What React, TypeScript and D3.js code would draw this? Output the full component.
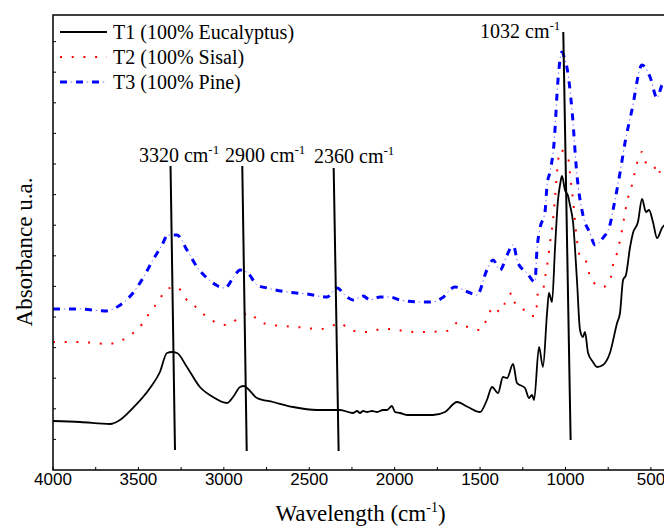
import React from "react";
import * as d3 from "d3";

// wavenumber (cm^-1) values, absorbance in arbitrary units
const t1Wave = [4000,3842,3666,3608,3532,3432,3374,3333,3303,3274,3216,3140,3063,2981,2946,2905,2882,2864,2806,2712,2595,2455,2320,2244,2220,2203,2185,2162,2133,2103,2068,2045,2016,1998,1969,1928,1852,1776,1705,1635,1571,1500,1460,1430,1395,1366,1342,1307,1284,1237,1214,1196,1184,1155,1132,1108,1097,1079,1061,1044,1032,1021,1003,985,974,956,933,915,898,886,868,839,816,781,740,698,681,663,646,622,605,576,552,529,511,488,464,435,400];
const t1Abs = [49,48,46,50,62,82,98,117,118,117,103,83,73,67,73,83,84,82,72,68,63,60,60,57,59,57,59,58,59,58,60,60,64,58,57,55,55,55,58,68,63,58,70,83,77,93,92,106,87,82,72,75,70,123,103,157,177,168,223,270,285,294,280,274,265,248,190,140,133,138,117,108,103,105,117,147,157,190,195,223,237,248,271,258,260,248,232,242,248];

const t2Wave = [4000,3842,3678,3608,3538,3473,3432,3385,3333,3274,3227,3157,3099,3040,2981,2905,2853,2788,2712,2572,2437,2379,2320,2262,2162,2074,2010,1951,1869,1694,1635,1571,1500,1460,1424,1383,1354,1313,1296,1243,1202,1173,1167,1161,1132,1120,1108,1091,1073,1061,1050,1032,1009,979,974,956,944,933,915,886,868,839,781,734,722,698,669,640,611,581,552,535,488,459,429,400];
const t2Abs = [128,128,126,129,136,147,158,168,181,183,172,162,153,147,145,153,157,148,145,143,141,143,147,140,138,141,141,139,138,139,147,143,140,151,163,158,167,177,167,160,154,155,167,178,180,192,204,227,250,273,297,320,318,308,297,270,248,230,214,212,200,188,183,193,205,217,240,268,285,307,318,308,306,295,307,307];

const t3Wave = [4000,3842,3696,3625,3532,3473,3415,3362,3327,3274,3216,3157,3099,2993,2946,2905,2859,2806,2747,2630,2513,2396,2338,2279,2244,2185,2144,2086,2027,1969,1852,1776,1723,1647,1571,1518,1460,1424,1383,1342,1307,1278,1225,1179,1167,1149,1120,1108,1091,1067,1044,1021,1003,991,962,933,898,857,827,781,740,716,681,652,611,552,505,464,435,400];
const t3Abs = [161,161,159,163,177,192,210,225,235,235,220,203,192,182,192,200,197,185,182,178,176,173,182,173,170,174,170,173,173,170,168,168,172,183,178,175,200,210,200,215,225,207,197,188,220,242,258,285,298,327,390,418,410,402,360,295,255,237,225,232,245,265,297,327,360,405,393,372,385,390];

const xTicks = [4000, 3500, 3000, 2500, 2000, 1500, 1000, 500];
const minorTicks = d3.range(4000, 400, -250);

const seriesNames = ["T1 (100% Eucalyptus)", "T2 (100% Sisal)", "T3 (100% Pine)"];

// annotation lines: label, top (wave, abs), bottom (wave, abs), label anchor wave & abs
const annLabels = ["3320", "2900", "2360", "1032"];
const annTopWave = [3312, 2892, 2357, 1013];
const annTopAbs = [304, 304, 302, 438];
const annBotWave = [3286, 2866, 2328, 970];
const annBotAbs = [20, 19, 19, 30];
const annTextWave = [3497, 2993, 2472, 1500];
const annTextAbs = [308, 308, 307, 432];

const W = 664, H = 529;
const left = 53, right = 668, top = 15, bottom = 470;

export default function App() {
  const x = d3.scaleLinear().domain([4000, 400]).range([left, right]);
  const y = d3.scaleLinear().domain([0, 455]).range([bottom, top]);
  const line = d3.line<[number, number]>().x(d => x(d[0])).y(d => y(d[1])).curve(d3.curveMonotoneX);
  const p1 = line(t1Wave.map((w, i) => [w, t1Abs[i]]))!;
  const p2 = line(t2Wave.map((w, i) => [w, t2Abs[i]]))!;
  const p3 = line(t3Wave.map((w, i) => [w, t3Abs[i]]))!;
  const yTicks = d3.range(1, 15).map(k => k * 30.6);
  const serif = "'Liberation Serif', 'Times New Roman', serif";
  const sans = "'Liberation Sans', Arial, sans-serif";
  const legendY = [32, 57, 82];

  return (
    <svg width={W} height={H} style={{ position: "absolute", left: 0, top: 0, background: "#fff" }}>
      <defs>
        <clipPath id="plot">
          <rect x={left} y={top} width={right - left} height={bottom - top} />
        </clipPath>
      </defs>
      <g clipPath="url(#plot)" fill="none">
        <path d={p1} stroke="#000" strokeWidth={1.8} />
        <path d={p2} stroke="#ff0000" strokeWidth={2} strokeDasharray="2 9.7" />
        <path d={p3} stroke="#0000ff" strokeWidth={3} strokeDasharray="7 9" />
        <path d={p3} stroke="#7070ff" strokeWidth={1} strokeDasharray="1.5 14.5" strokeDashoffset={-10.75} />
      </g>
      {/* annotation lines */}
      {annLabels.map((lab, i) => (
        <g key={lab}>
          <line x1={x(annTopWave[i])} y1={y(annTopAbs[i])} x2={x(annBotWave[i])} y2={y(annBotAbs[i])} stroke="#000" strokeWidth={2} />
          <text x={x(annTextWave[i])} y={y(annTextAbs[i])} fontFamily={serif} fontSize={20} fill="#000">
            {lab} cm<tspan fontSize={13} dy={-8}>-1</tspan>
          </text>
        </g>
      ))}
      {/* frame */}
      <rect x={left} y={top} width={right - left} height={bottom - top} fill="none" stroke="#000" strokeWidth={1.5} />
      {minorTicks.map(t => (
        <line key={"m" + t} x1={x(t)} x2={x(t)} y1={bottom} y2={bottom - 3} stroke="#000" strokeWidth={1} />
      ))}
      {yTicks.map(t => (
        <line key={"y" + t} x1={left} x2={left + 3} y1={y(t)} y2={y(t)} stroke="#000" strokeWidth={1} />
      ))}
      {xTicks.map(t => (
        <text key={t} x={x(t)} y={bottom + 15} textAnchor="middle" fontFamily={sans} fontSize={17} fill="#000">{t}</text>
      ))}
      <text x={(left + right) / 2} y={521} textAnchor="middle" fontFamily={serif} fontSize={23} fill="#000">
        Wavelength (cm<tspan fontSize={14} dy={-9}>-1</tspan><tspan dy={9}>)</tspan>
      </text>
      <text transform={`translate(32, 252) rotate(-90)`} textAnchor="middle" fontFamily={serif} fontSize={23} fill="#000">Absorbance u.a.</text>
      {/* legend */}
      <line x1={60} x2={107} y1={legendY[0]} y2={legendY[0]} stroke="#000" strokeWidth={1.8} />
      <line x1={60} x2={107} y1={legendY[1]} y2={legendY[1]} stroke="#ff0000" strokeWidth={2} strokeDasharray="2 9.7" />
      <line x1={60} x2={107} y1={legendY[2]} y2={legendY[2]} stroke="#0000ff" strokeWidth={3} strokeDasharray="7 9" />
      <line x1={60} x2={107} y1={legendY[2]} y2={legendY[2]} stroke="#7070ff" strokeWidth={1} strokeDasharray="1.5 14.5" strokeDashoffset={-10.75} />
      {seriesNames.map((n, i) => (
        <text key={n} x={113} y={legendY[i] + 6.5} fontFamily={serif} fontSize={20} fill="#000">{n}</text>
      ))}
    </svg>
  );
}
